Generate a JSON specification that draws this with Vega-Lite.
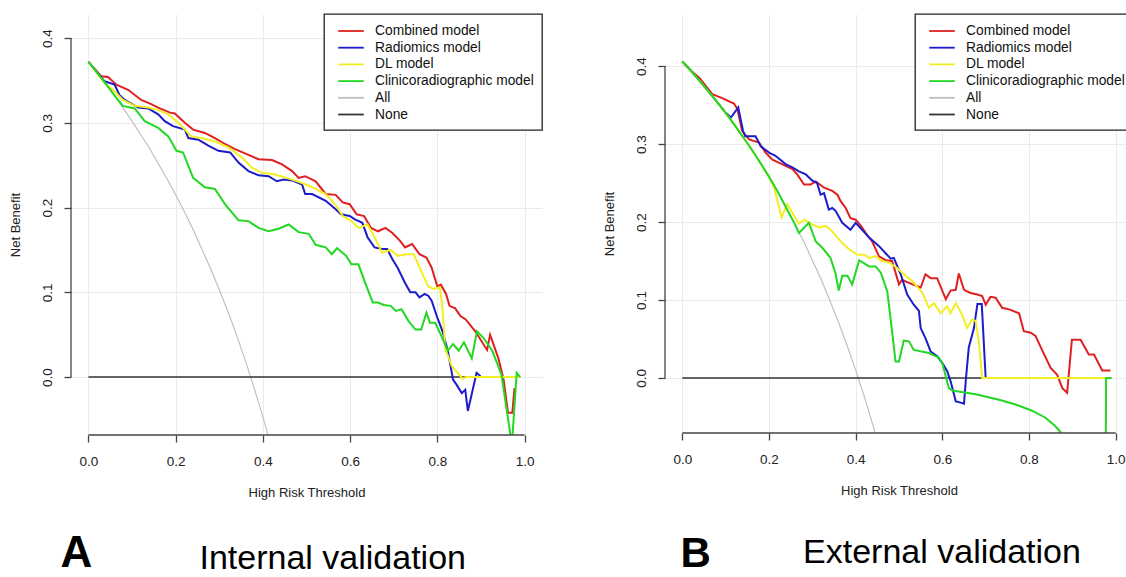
{
  "$schema": "https://vega.github.io/schema/vega-lite/v6.json",
  "background": "white",
  "padding": {"left": 8, "top": 13, "right": 0, "bottom": 0},
  "spacing": 60,
  "config": {
    "view": {"stroke": null},
    "font": "Liberation Sans",
    "axis": {
      "domain": false,
      "tickSize": 7,
      "tickColor": "#444",
      "tickWidth": 1.3,
      "gridColor": "#EBEBEB",
      "gridWidth": 1,
      "labelFont": "Liberation Sans",
      "labelFontSize": 13.5,
      "labelColor": "#222",
      "titleFont": "Liberation Sans",
      "titleFontSize": 13,
      "titleFontWeight": "normal",
      "titleColor": "#222"
    },
    "legend": {
      "orient": "top-right",
      "offset": 0,
      "title": null,
      "strokeColor": "#222",
      "strokeWidth": 1.3,
      "fillColor": "white",
      "padding": 8,
      "labelFont": "Liberation Sans",
      "labelFontSize": 13.8,
      "labelColor": "#111",
      "labelLimit": 400,
      "symbolType": "M-1.6,0H1.6",
      "symbolSize": 256,
      "symbolStrokeWidth": 1.8,
      "symbolOffset": 10,
      "rowPadding": 0.7,
      "labelOffset": 15
    }
  },
  "resolve": {"scale": {"color": "independent"}, "legend": {"color": "independent"}},
  "datasets": {
    "left": [
      {"series": "All", "t": 0, "nb": 0.372}, {"series": "All", "t": 0.02, "nb": 0.359}, {"series": "All", "t": 0.04, "nb": 0.346}, {"series": "All", "t": 0.06, "nb": 0.332}, {"series": "All", "t": 0.08, "nb": 0.317}, {"series": "All", "t": 0.1, "nb": 0.302}, {"series": "All", "t": 0.12, "nb": 0.286}, {"series": "All", "t": 0.14, "nb": 0.27}, {"series": "All", "t": 0.16, "nb": 0.252}, {"series": "All", "t": 0.18, "nb": 0.234}, {"series": "All", "t": 0.2, "nb": 0.215}, {"series": "All", "t": 0.22, "nb": 0.195}, {"series": "All", "t": 0.24, "nb": 0.174}, {"series": "All", "t": 0.26, "nb": 0.151}, {"series": "All", "t": 0.28, "nb": 0.128}, {"series": "All", "t": 0.3, "nb": 0.103}, {"series": "All", "t": 0.32, "nb": 0.077}, {"series": "All", "t": 0.34, "nb": 0.049}, {"series": "All", "t": 0.36, "nb": 0.019}, {"series": "All", "t": 0.38, "nb": -0.013}, {"series": "All", "t": 0.4, "nb": -0.047}, {"series": "All", "t": 0.42, "nb": -0.083},
      {"series": "None", "t": 0, "nb": 0}, {"series": "None", "t": 0.99, "nb": 0},
      {"series": "Combined model", "t": 0, "nb": 0.372}, {"series": "Combined model", "t": 0.029, "nb": 0.355}, {"series": "Combined model", "t": 0.045, "nb": 0.354}, {"series": "Combined model", "t": 0.064, "nb": 0.345}, {"series": "Combined model", "t": 0.091, "nb": 0.339}, {"series": "Combined model", "t": 0.121, "nb": 0.327}, {"series": "Combined model", "t": 0.144, "nb": 0.322}, {"series": "Combined model", "t": 0.16, "nb": 0.318}, {"series": "Combined model", "t": 0.187, "nb": 0.312}, {"series": "Combined model", "t": 0.198, "nb": 0.311}, {"series": "Combined model", "t": 0.221, "nb": 0.3}, {"series": "Combined model", "t": 0.24, "nb": 0.292}, {"series": "Combined model", "t": 0.267, "nb": 0.288}, {"series": "Combined model", "t": 0.29, "nb": 0.282}, {"series": "Combined model", "t": 0.313, "nb": 0.275}, {"series": "Combined model", "t": 0.336, "nb": 0.269}, {"series": "Combined model", "t": 0.363, "nb": 0.263}, {"series": "Combined model", "t": 0.39, "nb": 0.257}, {"series": "Combined model", "t": 0.421, "nb": 0.256}, {"series": "Combined model", "t": 0.444, "nb": 0.251}, {"series": "Combined model", "t": 0.467, "nb": 0.243}, {"series": "Combined model", "t": 0.482, "nb": 0.235}, {"series": "Combined model", "t": 0.497, "nb": 0.237}, {"series": "Combined model", "t": 0.521, "nb": 0.231}, {"series": "Combined model", "t": 0.544, "nb": 0.216}, {"series": "Combined model", "t": 0.567, "nb": 0.215}, {"series": "Combined model", "t": 0.583, "nb": 0.206}, {"series": "Combined model", "t": 0.599, "nb": 0.204}, {"series": "Combined model", "t": 0.615, "nb": 0.192}, {"series": "Combined model", "t": 0.632, "nb": 0.19}, {"series": "Combined model", "t": 0.648, "nb": 0.176}, {"series": "Combined model", "t": 0.664, "nb": 0.172}, {"series": "Combined model", "t": 0.681, "nb": 0.176}, {"series": "Combined model", "t": 0.697, "nb": 0.17}, {"series": "Combined model", "t": 0.714, "nb": 0.161}, {"series": "Combined model", "t": 0.726, "nb": 0.153}, {"series": "Combined model", "t": 0.742, "nb": 0.157}, {"series": "Combined model", "t": 0.759, "nb": 0.145}, {"series": "Combined model", "t": 0.775, "nb": 0.141}, {"series": "Combined model", "t": 0.787, "nb": 0.129}, {"series": "Combined model", "t": 0.8, "nb": 0.107}, {"series": "Combined model", "t": 0.808, "nb": 0.109}, {"series": "Combined model", "t": 0.82, "nb": 0.098}, {"series": "Combined model", "t": 0.828, "nb": 0.084}, {"series": "Combined model", "t": 0.841, "nb": 0.081}, {"series": "Combined model", "t": 0.853, "nb": 0.072}, {"series": "Combined model", "t": 0.865, "nb": 0.068}, {"series": "Combined model", "t": 0.887, "nb": 0.054}, {"series": "Combined model", "t": 0.914, "nb": 0.032}, {"series": "Combined model", "t": 0.921, "nb": 0.05}, {"series": "Combined model", "t": 0.94, "nb": 0.022}, {"series": "Combined model", "t": 0.952, "nb": -0.003}, {"series": "Combined model", "t": 0.962, "nb": -0.042}, {"series": "Combined model", "t": 0.972, "nb": -0.042}, {"series": "Combined model", "t": 0.977, "nb": -0.013},
      {"series": "Radiomics model", "t": 0, "nb": 0.372}, {"series": "Radiomics model", "t": 0.037, "nb": 0.349}, {"series": "Radiomics model", "t": 0.06, "nb": 0.345}, {"series": "Radiomics model", "t": 0.071, "nb": 0.333}, {"series": "Radiomics model", "t": 0.083, "nb": 0.327}, {"series": "Radiomics model", "t": 0.114, "nb": 0.318}, {"series": "Radiomics model", "t": 0.137, "nb": 0.317}, {"series": "Radiomics model", "t": 0.16, "nb": 0.31}, {"series": "Radiomics model", "t": 0.175, "nb": 0.302}, {"series": "Radiomics model", "t": 0.194, "nb": 0.296}, {"series": "Radiomics model", "t": 0.221, "nb": 0.292}, {"series": "Radiomics model", "t": 0.229, "nb": 0.282}, {"series": "Radiomics model", "t": 0.252, "nb": 0.28}, {"series": "Radiomics model", "t": 0.275, "nb": 0.273}, {"series": "Radiomics model", "t": 0.298, "nb": 0.267}, {"series": "Radiomics model", "t": 0.325, "nb": 0.265}, {"series": "Radiomics model", "t": 0.344, "nb": 0.253}, {"series": "Radiomics model", "t": 0.367, "nb": 0.243}, {"series": "Radiomics model", "t": 0.39, "nb": 0.238}, {"series": "Radiomics model", "t": 0.413, "nb": 0.237}, {"series": "Radiomics model", "t": 0.432, "nb": 0.231}, {"series": "Radiomics model", "t": 0.448, "nb": 0.233}, {"series": "Radiomics model", "t": 0.467, "nb": 0.232}, {"series": "Radiomics model", "t": 0.49, "nb": 0.227}, {"series": "Radiomics model", "t": 0.497, "nb": 0.216}, {"series": "Radiomics model", "t": 0.513, "nb": 0.216}, {"series": "Radiomics model", "t": 0.544, "nb": 0.208}, {"series": "Radiomics model", "t": 0.567, "nb": 0.198}, {"series": "Radiomics model", "t": 0.579, "nb": 0.192}, {"series": "Radiomics model", "t": 0.599, "nb": 0.19}, {"series": "Radiomics model", "t": 0.611, "nb": 0.186}, {"series": "Radiomics model", "t": 0.628, "nb": 0.182}, {"series": "Radiomics model", "t": 0.64, "nb": 0.165}, {"series": "Radiomics model", "t": 0.656, "nb": 0.153}, {"series": "Radiomics model", "t": 0.673, "nb": 0.151}, {"series": "Radiomics model", "t": 0.685, "nb": 0.151}, {"series": "Radiomics model", "t": 0.697, "nb": 0.139}, {"series": "Radiomics model", "t": 0.709, "nb": 0.129}, {"series": "Radiomics model", "t": 0.726, "nb": 0.111}, {"series": "Radiomics model", "t": 0.738, "nb": 0.1}, {"series": "Radiomics model", "t": 0.75, "nb": 0.1}, {"series": "Radiomics model", "t": 0.759, "nb": 0.094}, {"series": "Radiomics model", "t": 0.771, "nb": 0.098}, {"series": "Radiomics model", "t": 0.779, "nb": 0.096}, {"series": "Radiomics model", "t": 0.787, "nb": 0.09}, {"series": "Radiomics model", "t": 0.8, "nb": 0.07}, {"series": "Radiomics model", "t": 0.812, "nb": 0.054}, {"series": "Radiomics model", "t": 0.824, "nb": 0.031}, {"series": "Radiomics model", "t": 0.836, "nb": -0.003}, {"series": "Radiomics model", "t": 0.844, "nb": -0.009}, {"series": "Radiomics model", "t": 0.856, "nb": -0.019}, {"series": "Radiomics model", "t": 0.864, "nb": -0.015}, {"series": "Radiomics model", "t": 0.87, "nb": -0.04}, {"series": "Radiomics model", "t": 0.89, "nb": 0.005}, {"series": "Radiomics model", "t": 0.899, "nb": 0.001},
      {"series": "DL model", "t": 0, "nb": 0.372}, {"series": "DL model", "t": 0.037, "nb": 0.347}, {"series": "DL model", "t": 0.06, "nb": 0.337}, {"series": "DL model", "t": 0.079, "nb": 0.327}, {"series": "DL model", "t": 0.106, "nb": 0.32}, {"series": "DL model", "t": 0.137, "nb": 0.318}, {"series": "DL model", "t": 0.16, "nb": 0.315}, {"series": "DL model", "t": 0.183, "nb": 0.31}, {"series": "DL model", "t": 0.206, "nb": 0.3}, {"series": "DL model", "t": 0.236, "nb": 0.284}, {"series": "DL model", "t": 0.259, "nb": 0.282}, {"series": "DL model", "t": 0.29, "nb": 0.278}, {"series": "DL model", "t": 0.321, "nb": 0.271}, {"series": "DL model", "t": 0.352, "nb": 0.259}, {"series": "DL model", "t": 0.375, "nb": 0.247}, {"series": "DL model", "t": 0.398, "nb": 0.241}, {"series": "DL model", "t": 0.428, "nb": 0.239}, {"series": "DL model", "t": 0.467, "nb": 0.233}, {"series": "DL model", "t": 0.49, "nb": 0.229}, {"series": "DL model", "t": 0.513, "nb": 0.224}, {"series": "DL model", "t": 0.544, "nb": 0.216}, {"series": "DL model", "t": 0.567, "nb": 0.203}, {"series": "DL model", "t": 0.583, "nb": 0.19}, {"series": "DL model", "t": 0.603, "nb": 0.184}, {"series": "DL model", "t": 0.619, "nb": 0.176}, {"series": "DL model", "t": 0.64, "nb": 0.18}, {"series": "DL model", "t": 0.652, "nb": 0.169}, {"series": "DL model", "t": 0.673, "nb": 0.147}, {"series": "DL model", "t": 0.693, "nb": 0.15}, {"series": "DL model", "t": 0.709, "nb": 0.143}, {"series": "DL model", "t": 0.73, "nb": 0.145}, {"series": "DL model", "t": 0.746, "nb": 0.145}, {"series": "DL model", "t": 0.763, "nb": 0.125}, {"series": "DL model", "t": 0.779, "nb": 0.107}, {"series": "DL model", "t": 0.791, "nb": 0.104}, {"series": "DL model", "t": 0.806, "nb": 0.106}, {"series": "DL model", "t": 0.812, "nb": 0.08}, {"series": "DL model", "t": 0.818, "nb": 0.034}, {"series": "DL model", "t": 0.833, "nb": 0.013}, {"series": "DL model", "t": 0.858, "nb": -0.002}, {"series": "DL model", "t": 0.866, "nb": 0}, {"series": "DL model", "t": 0.99, "nb": 0},
      {"series": "Clinicoradiographic model", "t": 0, "nb": 0.372}, {"series": "Clinicoradiographic model", "t": 0.02, "nb": 0.359}, {"series": "Clinicoradiographic model", "t": 0.04, "nb": 0.346}, {"series": "Clinicoradiographic model", "t": 0.06, "nb": 0.332}, {"series": "Clinicoradiographic model", "t": 0.079, "nb": 0.32}, {"series": "Clinicoradiographic model", "t": 0.106, "nb": 0.317}, {"series": "Clinicoradiographic model", "t": 0.129, "nb": 0.302}, {"series": "Clinicoradiographic model", "t": 0.16, "nb": 0.294}, {"series": "Clinicoradiographic model", "t": 0.183, "nb": 0.284}, {"series": "Clinicoradiographic model", "t": 0.202, "nb": 0.267}, {"series": "Clinicoradiographic model", "t": 0.217, "nb": 0.265}, {"series": "Clinicoradiographic model", "t": 0.24, "nb": 0.235}, {"series": "Clinicoradiographic model", "t": 0.267, "nb": 0.224}, {"series": "Clinicoradiographic model", "t": 0.29, "nb": 0.222}, {"series": "Clinicoradiographic model", "t": 0.313, "nb": 0.204}, {"series": "Clinicoradiographic model", "t": 0.344, "nb": 0.185}, {"series": "Clinicoradiographic model", "t": 0.367, "nb": 0.184}, {"series": "Clinicoradiographic model", "t": 0.39, "nb": 0.176}, {"series": "Clinicoradiographic model", "t": 0.413, "nb": 0.172}, {"series": "Clinicoradiographic model", "t": 0.436, "nb": 0.175}, {"series": "Clinicoradiographic model", "t": 0.459, "nb": 0.18}, {"series": "Clinicoradiographic model", "t": 0.482, "nb": 0.171}, {"series": "Clinicoradiographic model", "t": 0.505, "nb": 0.169}, {"series": "Clinicoradiographic model", "t": 0.521, "nb": 0.156}, {"series": "Clinicoradiographic model", "t": 0.544, "nb": 0.153}, {"series": "Clinicoradiographic model", "t": 0.558, "nb": 0.145}, {"series": "Clinicoradiographic model", "t": 0.57, "nb": 0.152}, {"series": "Clinicoradiographic model", "t": 0.591, "nb": 0.143}, {"series": "Clinicoradiographic model", "t": 0.603, "nb": 0.133}, {"series": "Clinicoradiographic model", "t": 0.619, "nb": 0.133}, {"series": "Clinicoradiographic model", "t": 0.636, "nb": 0.109}, {"series": "Clinicoradiographic model", "t": 0.652, "nb": 0.088}, {"series": "Clinicoradiographic model", "t": 0.664, "nb": 0.088}, {"series": "Clinicoradiographic model", "t": 0.677, "nb": 0.085}, {"series": "Clinicoradiographic model", "t": 0.693, "nb": 0.084}, {"series": "Clinicoradiographic model", "t": 0.705, "nb": 0.078}, {"series": "Clinicoradiographic model", "t": 0.718, "nb": 0.08}, {"series": "Clinicoradiographic model", "t": 0.734, "nb": 0.066}, {"series": "Clinicoradiographic model", "t": 0.75, "nb": 0.056}, {"series": "Clinicoradiographic model", "t": 0.763, "nb": 0.056}, {"series": "Clinicoradiographic model", "t": 0.775, "nb": 0.076}, {"series": "Clinicoradiographic model", "t": 0.783, "nb": 0.064}, {"series": "Clinicoradiographic model", "t": 0.795, "nb": 0.064}, {"series": "Clinicoradiographic model", "t": 0.808, "nb": 0.05}, {"series": "Clinicoradiographic model", "t": 0.824, "nb": 0.031}, {"series": "Clinicoradiographic model", "t": 0.836, "nb": 0.039}, {"series": "Clinicoradiographic model", "t": 0.849, "nb": 0.031}, {"series": "Clinicoradiographic model", "t": 0.861, "nb": 0.041}, {"series": "Clinicoradiographic model", "t": 0.879, "nb": 0.022}, {"series": "Clinicoradiographic model", "t": 0.891, "nb": 0.054}, {"series": "Clinicoradiographic model", "t": 0.906, "nb": 0.046}, {"series": "Clinicoradiographic model", "t": 0.926, "nb": 0.031}, {"series": "Clinicoradiographic model", "t": 0.947, "nb": 0.003}, {"series": "Clinicoradiographic model", "t": 0.971, "nb": -0.08}, {"series": "Clinicoradiographic model", "t": 0.982, "nb": 0.005}, {"series": "Clinicoradiographic model", "t": 0.99, "nb": 0}
    ],
    "right": [
      {"series": "All", "t": 0, "nb": 0.406}, {"series": "All", "t": 0.02, "nb": 0.394}, {"series": "All", "t": 0.04, "nb": 0.381}, {"series": "All", "t": 0.06, "nb": 0.368}, {"series": "All", "t": 0.08, "nb": 0.354}, {"series": "All", "t": 0.1, "nb": 0.34}, {"series": "All", "t": 0.12, "nb": 0.325}, {"series": "All", "t": 0.14, "nb": 0.309}, {"series": "All", "t": 0.16, "nb": 0.293}, {"series": "All", "t": 0.18, "nb": 0.276}, {"series": "All", "t": 0.2, "nb": 0.258}, {"series": "All", "t": 0.22, "nb": 0.239}, {"series": "All", "t": 0.24, "nb": 0.218}, {"series": "All", "t": 0.26, "nb": 0.197}, {"series": "All", "t": 0.28, "nb": 0.175}, {"series": "All", "t": 0.3, "nb": 0.151}, {"series": "All", "t": 0.32, "nb": 0.127}, {"series": "All", "t": 0.34, "nb": 0.1}, {"series": "All", "t": 0.36, "nb": 0.072}, {"series": "All", "t": 0.38, "nb": 0.042}, {"series": "All", "t": 0.4, "nb": 0.01}, {"series": "All", "t": 0.42, "nb": -0.024}, {"series": "All", "t": 0.44, "nb": -0.061}, {"series": "All", "t": 0.46, "nb": -0.1},
      {"series": "None", "t": 0, "nb": 0}, {"series": "None", "t": 0.99, "nb": 0},
      {"series": "Combined model", "t": 0, "nb": 0.406}, {"series": "Combined model", "t": 0.02, "nb": 0.394}, {"series": "Combined model", "t": 0.039, "nb": 0.385}, {"series": "Combined model", "t": 0.069, "nb": 0.364}, {"series": "Combined model", "t": 0.092, "nb": 0.359}, {"series": "Combined model", "t": 0.119, "nb": 0.352}, {"series": "Combined model", "t": 0.127, "nb": 0.345}, {"series": "Combined model", "t": 0.138, "nb": 0.317}, {"series": "Combined model", "t": 0.154, "nb": 0.306}, {"series": "Combined model", "t": 0.177, "nb": 0.302}, {"series": "Combined model", "t": 0.192, "nb": 0.289}, {"series": "Combined model", "t": 0.208, "nb": 0.28}, {"series": "Combined model", "t": 0.231, "nb": 0.274}, {"series": "Combined model", "t": 0.254, "nb": 0.268}, {"series": "Combined model", "t": 0.265, "nb": 0.261}, {"series": "Combined model", "t": 0.281, "nb": 0.248}, {"series": "Combined model", "t": 0.296, "nb": 0.248}, {"series": "Combined model", "t": 0.308, "nb": 0.252}, {"series": "Combined model", "t": 0.327, "nb": 0.244}, {"series": "Combined model", "t": 0.346, "nb": 0.24}, {"series": "Combined model", "t": 0.358, "nb": 0.235}, {"series": "Combined model", "t": 0.365, "nb": 0.227}, {"series": "Combined model", "t": 0.377, "nb": 0.218}, {"series": "Combined model", "t": 0.388, "nb": 0.205}, {"series": "Combined model", "t": 0.4, "nb": 0.203}, {"series": "Combined model", "t": 0.412, "nb": 0.195}, {"series": "Combined model", "t": 0.423, "nb": 0.186}, {"series": "Combined model", "t": 0.438, "nb": 0.175}, {"series": "Combined model", "t": 0.454, "nb": 0.156}, {"series": "Combined model", "t": 0.469, "nb": 0.151}, {"series": "Combined model", "t": 0.484, "nb": 0.15}, {"series": "Combined model", "t": 0.5, "nb": 0.12}, {"series": "Combined model", "t": 0.507, "nb": 0.126}, {"series": "Combined model", "t": 0.531, "nb": 0.12}, {"series": "Combined model", "t": 0.55, "nb": 0.116}, {"series": "Combined model", "t": 0.561, "nb": 0.133}, {"series": "Combined model", "t": 0.573, "nb": 0.128}, {"series": "Combined model", "t": 0.588, "nb": 0.128}, {"series": "Combined model", "t": 0.608, "nb": 0.101}, {"series": "Combined model", "t": 0.619, "nb": 0.112}, {"series": "Combined model", "t": 0.631, "nb": 0.113}, {"series": "Combined model", "t": 0.638, "nb": 0.134}, {"series": "Combined model", "t": 0.65, "nb": 0.113}, {"series": "Combined model", "t": 0.665, "nb": 0.109}, {"series": "Combined model", "t": 0.681, "nb": 0.107}, {"series": "Combined model", "t": 0.692, "nb": 0.105}, {"series": "Combined model", "t": 0.7, "nb": 0.094}, {"series": "Combined model", "t": 0.711, "nb": 0.104}, {"series": "Combined model", "t": 0.723, "nb": 0.103}, {"series": "Combined model", "t": 0.738, "nb": 0.09}, {"series": "Combined model", "t": 0.754, "nb": 0.088}, {"series": "Combined model", "t": 0.777, "nb": 0.083}, {"series": "Combined model", "t": 0.788, "nb": 0.06}, {"series": "Combined model", "t": 0.804, "nb": 0.058}, {"series": "Combined model", "t": 0.815, "nb": 0.054}, {"series": "Combined model", "t": 0.83, "nb": 0.036}, {"series": "Combined model", "t": 0.85, "nb": 0.013}, {"series": "Combined model", "t": 0.865, "nb": 0.004}, {"series": "Combined model", "t": 0.877, "nb": -0.013}, {"series": "Combined model", "t": 0.888, "nb": -0.019}, {"series": "Combined model", "t": 0.899, "nb": 0.049}, {"series": "Combined model", "t": 0.919, "nb": 0.049}, {"series": "Combined model", "t": 0.938, "nb": 0.03}, {"series": "Combined model", "t": 0.95, "nb": 0.03}, {"series": "Combined model", "t": 0.969, "nb": 0.0095}, {"series": "Combined model", "t": 0.988, "nb": 0.0095},
      {"series": "Radiomics model", "t": 0, "nb": 0.406}, {"series": "Radiomics model", "t": 0.04, "nb": 0.381}, {"series": "Radiomics model", "t": 0.08, "nb": 0.354}, {"series": "Radiomics model", "t": 0.1, "nb": 0.34}, {"series": "Radiomics model", "t": 0.112, "nb": 0.334}, {"series": "Radiomics model", "t": 0.129, "nb": 0.347}, {"series": "Radiomics model", "t": 0.14, "nb": 0.317}, {"series": "Radiomics model", "t": 0.145, "nb": 0.31}, {"series": "Radiomics model", "t": 0.169, "nb": 0.31}, {"series": "Radiomics model", "t": 0.181, "nb": 0.297}, {"series": "Radiomics model", "t": 0.2, "nb": 0.289}, {"series": "Radiomics model", "t": 0.215, "nb": 0.285}, {"series": "Radiomics model", "t": 0.239, "nb": 0.274}, {"series": "Radiomics model", "t": 0.254, "nb": 0.27}, {"series": "Radiomics model", "t": 0.269, "nb": 0.265}, {"series": "Radiomics model", "t": 0.285, "nb": 0.261}, {"series": "Radiomics model", "t": 0.3, "nb": 0.253}, {"series": "Radiomics model", "t": 0.311, "nb": 0.25}, {"series": "Radiomics model", "t": 0.319, "nb": 0.235}, {"series": "Radiomics model", "t": 0.327, "nb": 0.237}, {"series": "Radiomics model", "t": 0.338, "nb": 0.216}, {"series": "Radiomics model", "t": 0.346, "nb": 0.218}, {"series": "Radiomics model", "t": 0.354, "nb": 0.214}, {"series": "Radiomics model", "t": 0.369, "nb": 0.199}, {"series": "Radiomics model", "t": 0.388, "nb": 0.19}, {"series": "Radiomics model", "t": 0.4, "nb": 0.199}, {"series": "Radiomics model", "t": 0.415, "nb": 0.19}, {"series": "Radiomics model", "t": 0.431, "nb": 0.18}, {"series": "Radiomics model", "t": 0.454, "nb": 0.169}, {"series": "Radiomics model", "t": 0.469, "nb": 0.16}, {"series": "Radiomics model", "t": 0.481, "nb": 0.153}, {"series": "Radiomics model", "t": 0.488, "nb": 0.154}, {"series": "Radiomics model", "t": 0.504, "nb": 0.133}, {"series": "Radiomics model", "t": 0.519, "nb": 0.107}, {"series": "Radiomics model", "t": 0.534, "nb": 0.094}, {"series": "Radiomics model", "t": 0.546, "nb": 0.086}, {"series": "Radiomics model", "t": 0.55, "nb": 0.064}, {"series": "Radiomics model", "t": 0.561, "nb": 0.051}, {"series": "Radiomics model", "t": 0.573, "nb": 0.034}, {"series": "Radiomics model", "t": 0.588, "nb": 0.028}, {"series": "Radiomics model", "t": 0.6, "nb": 0.019}, {"series": "Radiomics model", "t": 0.611, "nb": 0.009}, {"series": "Radiomics model", "t": 0.619, "nb": -0.004}, {"series": "Radiomics model", "t": 0.631, "nb": -0.03}, {"series": "Radiomics model", "t": 0.638, "nb": -0.031}, {"series": "Radiomics model", "t": 0.65, "nb": -0.033}, {"series": "Radiomics model", "t": 0.654, "nb": -0.004}, {"series": "Radiomics model", "t": 0.661, "nb": 0.039}, {"series": "Radiomics model", "t": 0.673, "nb": 0.064}, {"series": "Radiomics model", "t": 0.681, "nb": 0.095}, {"series": "Radiomics model", "t": 0.691, "nb": 0.095}, {"series": "Radiomics model", "t": 0.7, "nb": 0},
      {"series": "DL model", "t": 0, "nb": 0.406}, {"series": "DL model", "t": 0.04, "nb": 0.381}, {"series": "DL model", "t": 0.08, "nb": 0.354}, {"series": "DL model", "t": 0.12, "nb": 0.325}, {"series": "DL model", "t": 0.16, "nb": 0.293}, {"series": "DL model", "t": 0.2, "nb": 0.258}, {"series": "DL model", "t": 0.212, "nb": 0.244}, {"series": "DL model", "t": 0.229, "nb": 0.206}, {"series": "DL model", "t": 0.242, "nb": 0.223}, {"series": "DL model", "t": 0.258, "nb": 0.208}, {"series": "DL model", "t": 0.269, "nb": 0.198}, {"series": "DL model", "t": 0.282, "nb": 0.203}, {"series": "DL model", "t": 0.3, "nb": 0.197}, {"series": "DL model", "t": 0.315, "nb": 0.193}, {"series": "DL model", "t": 0.331, "nb": 0.195}, {"series": "DL model", "t": 0.346, "nb": 0.188}, {"series": "DL model", "t": 0.369, "nb": 0.173}, {"series": "DL model", "t": 0.385, "nb": 0.165}, {"series": "DL model", "t": 0.404, "nb": 0.158}, {"series": "DL model", "t": 0.419, "nb": 0.158}, {"series": "DL model", "t": 0.431, "nb": 0.154}, {"series": "DL model", "t": 0.446, "nb": 0.156}, {"series": "DL model", "t": 0.461, "nb": 0.15}, {"series": "DL model", "t": 0.477, "nb": 0.148}, {"series": "DL model", "t": 0.496, "nb": 0.141}, {"series": "DL model", "t": 0.507, "nb": 0.135}, {"series": "DL model", "t": 0.531, "nb": 0.124}, {"series": "DL model", "t": 0.554, "nb": 0.109}, {"series": "DL model", "t": 0.569, "nb": 0.09}, {"series": "DL model", "t": 0.581, "nb": 0.096}, {"series": "DL model", "t": 0.596, "nb": 0.083}, {"series": "DL model", "t": 0.611, "nb": 0.092}, {"series": "DL model", "t": 0.619, "nb": 0.083}, {"series": "DL model", "t": 0.631, "nb": 0.096}, {"series": "DL model", "t": 0.646, "nb": 0.081}, {"series": "DL model", "t": 0.657, "nb": 0.064}, {"series": "DL model", "t": 0.669, "nb": 0.075}, {"series": "DL model", "t": 0.677, "nb": 0.073}, {"series": "DL model", "t": 0.684, "nb": 0.047}, {"series": "DL model", "t": 0.692, "nb": 0}, {"series": "DL model", "t": 0.99, "nb": 0},
      {"series": "Clinicoradiographic model", "t": 0, "nb": 0.406}, {"series": "Clinicoradiographic model", "t": 0.02, "nb": 0.394}, {"series": "Clinicoradiographic model", "t": 0.04, "nb": 0.381}, {"series": "Clinicoradiographic model", "t": 0.06, "nb": 0.368}, {"series": "Clinicoradiographic model", "t": 0.08, "nb": 0.354}, {"series": "Clinicoradiographic model", "t": 0.1, "nb": 0.34}, {"series": "Clinicoradiographic model", "t": 0.12, "nb": 0.325}, {"series": "Clinicoradiographic model", "t": 0.14, "nb": 0.309}, {"series": "Clinicoradiographic model", "t": 0.16, "nb": 0.293}, {"series": "Clinicoradiographic model", "t": 0.18, "nb": 0.276}, {"series": "Clinicoradiographic model", "t": 0.2, "nb": 0.258}, {"series": "Clinicoradiographic model", "t": 0.22, "nb": 0.239}, {"series": "Clinicoradiographic model", "t": 0.24, "nb": 0.218}, {"series": "Clinicoradiographic model", "t": 0.26, "nb": 0.197}, {"series": "Clinicoradiographic model", "t": 0.269, "nb": 0.186}, {"series": "Clinicoradiographic model", "t": 0.292, "nb": 0.199}, {"series": "Clinicoradiographic model", "t": 0.308, "nb": 0.175}, {"series": "Clinicoradiographic model", "t": 0.323, "nb": 0.167}, {"series": "Clinicoradiographic model", "t": 0.342, "nb": 0.154}, {"series": "Clinicoradiographic model", "t": 0.354, "nb": 0.133}, {"series": "Clinicoradiographic model", "t": 0.361, "nb": 0.112}, {"series": "Clinicoradiographic model", "t": 0.369, "nb": 0.131}, {"series": "Clinicoradiographic model", "t": 0.381, "nb": 0.131}, {"series": "Clinicoradiographic model", "t": 0.392, "nb": 0.12}, {"series": "Clinicoradiographic model", "t": 0.408, "nb": 0.151}, {"series": "Clinicoradiographic model", "t": 0.431, "nb": 0.143}, {"series": "Clinicoradiographic model", "t": 0.446, "nb": 0.143}, {"series": "Clinicoradiographic model", "t": 0.458, "nb": 0.135}, {"series": "Clinicoradiographic model", "t": 0.473, "nb": 0.111}, {"series": "Clinicoradiographic model", "t": 0.484, "nb": 0.06}, {"series": "Clinicoradiographic model", "t": 0.492, "nb": 0.021}, {"series": "Clinicoradiographic model", "t": 0.5, "nb": 0.021}, {"series": "Clinicoradiographic model", "t": 0.511, "nb": 0.048}, {"series": "Clinicoradiographic model", "t": 0.523, "nb": 0.047}, {"series": "Clinicoradiographic model", "t": 0.534, "nb": 0.036}, {"series": "Clinicoradiographic model", "t": 0.569, "nb": 0.032}, {"series": "Clinicoradiographic model", "t": 0.592, "nb": 0.026}, {"series": "Clinicoradiographic model", "t": 0.6, "nb": 0.019}, {"series": "Clinicoradiographic model", "t": 0.615, "nb": -0.013}, {"series": "Clinicoradiographic model", "t": 0.623, "nb": -0.016}, {"series": "Clinicoradiographic model", "t": 0.677, "nb": -0.021}, {"series": "Clinicoradiographic model", "t": 0.731, "nb": -0.028}, {"series": "Clinicoradiographic model", "t": 0.769, "nb": -0.034}, {"series": "Clinicoradiographic model", "t": 0.807, "nb": -0.042}, {"series": "Clinicoradiographic model", "t": 0.838, "nb": -0.051}, {"series": "Clinicoradiographic model", "t": 0.861, "nb": -0.062}, {"series": "Clinicoradiographic model", "t": 0.875, "nb": -0.071}, {"series": "Clinicoradiographic model", "t": 0.9, "nb": -0.09}, {"series": "Clinicoradiographic model", "t": 0.95, "nb": -0.14}, {"series": "Clinicoradiographic model", "t": 0.976, "nb": -0.2}, {"series": "Clinicoradiographic model", "t": 0.978, "nb": 0}, {"series": "Clinicoradiographic model", "t": 0.99, "nb": 0}
    ]
  },
  "hconcat": [
    {
      "width": 471,
      "height": 421,
      "layer": [
        {"data": {"name": "left"}, "transform": [{"filter": "datum.series === 'All'"}], "mark": {"type": "line", "clip": true, "strokeWidth": 1.1},
         "encoding": {
           "x": {"field": "t", "type": "quantitative", "scale": {"domain": [-0.04, 1.04], "nice": false, "zero": false},
                 "axis": {"values": [0, 0.2, 0.4, 0.6, 0.8, 1], "format": ".1f", "title": "High Risk Threshold", "labelPadding": 12, "titlePadding": 19}},
           "y": {"field": "nb", "type": "quantitative", "scale": {"domain": [-0.0684, 0.4284], "nice": false, "zero": false},
                 "axis": {"values": [0, 0.1, 0.2, 0.3, 0.4], "format": ".1f", "title": "Net Benefit", "labelAngle": 270, "labelAlign": "center", "labelBaseline": "bottom", "labelPadding": 10, "titlePadding": 18}},
           "color": {"field": "series", "type": "nominal", "scale": {"domain": ["Combined model", "Radiomics model", "DL model", "Clinicoradiographic model", "All", "None"], "range": ["#E02020", "#1C1CCC", "#F2EE22", "#22D822", "#BDBDBD", "#333333"]}}}},
        {"data": {"name": "left"}, "transform": [{"filter": "datum.series === 'None'"}], "mark": {"type": "line", "clip": true, "strokeWidth": 1.4},
         "encoding": {"x": {"field": "t", "type": "quantitative"}, "y": {"field": "nb", "type": "quantitative"}, "color": {"field": "series", "type": "nominal"}}},
        {"data": {"name": "left"}, "transform": [{"filter": "datum.series === 'Combined model'"}], "mark": {"type": "line", "clip": true, "strokeWidth": 2},
         "encoding": {"x": {"field": "t", "type": "quantitative"}, "y": {"field": "nb", "type": "quantitative"}, "color": {"field": "series", "type": "nominal"}}},
        {"data": {"name": "left"}, "transform": [{"filter": "datum.series === 'Radiomics model'"}], "mark": {"type": "line", "clip": true, "strokeWidth": 2},
         "encoding": {"x": {"field": "t", "type": "quantitative"}, "y": {"field": "nb", "type": "quantitative"}, "color": {"field": "series", "type": "nominal"}}},
        {"data": {"name": "left"}, "transform": [{"filter": "datum.series === 'DL model'"}], "mark": {"type": "line", "clip": true, "strokeWidth": 2},
         "encoding": {"x": {"field": "t", "type": "quantitative"}, "y": {"field": "nb", "type": "quantitative"}, "color": {"field": "series", "type": "nominal"}}},
        {"data": {"name": "left"}, "transform": [{"filter": "datum.series === 'Clinicoradiographic model'"}], "mark": {"type": "line", "clip": true, "strokeWidth": 2},
         "encoding": {"x": {"field": "t", "type": "quantitative"}, "y": {"field": "nb", "type": "quantitative"}, "color": {"field": "series", "type": "nominal"}}},
        {"data": {"values": [{"k": "yaxis"}]}, "mark": {"type": "rule", "color": "#444", "strokeWidth": 1.3},
         "encoding": {"x": {"datum": -0.04, "type": "quantitative"}, "y": {"datum": 0, "type": "quantitative"}, "y2": {"datum": 0.4}}},
        {"data": {"values": [{"k": "xaxis"}]}, "mark": {"type": "rule", "color": "#444", "strokeWidth": 1.3},
         "encoding": {"y": {"datum": -0.0684, "type": "quantitative"}, "x": {"datum": 0, "type": "quantitative"}, "x2": {"datum": 1}}},
        {"data": {"values": [{"label": "A"}]}, "mark": {"type": "text", "font": "Liberation Sans", "fontWeight": "bold", "fontSize": 44, "align": "center", "baseline": "alphabetic", "color": "#000"},
         "encoding": {"x": {"datum": -0.0275, "type": "quantitative"}, "y": {"datum": -0.2242, "type": "quantitative"}, "text": {"field": "label", "type": "nominal"}}},
        {"data": {"values": [{"label": "Internal validation"}]}, "mark": {"type": "text", "font": "Liberation Sans", "fontSize": 34, "align": "left", "baseline": "alphabetic", "color": "#000"},
         "encoding": {"x": {"datum": 0.2546, "type": "quantitative"}, "y": {"datum": -0.2265, "type": "quantitative"}, "text": {"field": "label", "type": "nominal"}}}
      ]
    },
    {
      "width": 468,
      "height": 419,
      "layer": [
        {"data": {"name": "right"}, "transform": [{"filter": "datum.series === 'All'"}], "mark": {"type": "line", "clip": true, "strokeWidth": 1.1},
         "encoding": {
           "x": {"field": "t", "type": "quantitative", "scale": {"domain": [-0.04, 1.04], "nice": false, "zero": false},
                 "axis": {"values": [0, 0.2, 0.4, 0.6, 0.8, 1], "format": ".1f", "title": "High Risk Threshold", "labelPadding": 12, "titlePadding": 19}},
           "y": {"field": "nb", "type": "quantitative", "scale": {"domain": [-0.0706, 0.4668], "nice": false, "zero": false},
                 "axis": {"values": [0, 0.1, 0.2, 0.3, 0.4], "format": ".1f", "title": "Net Benefit", "labelAngle": 270, "labelAlign": "center", "labelBaseline": "bottom", "labelPadding": 10, "titlePadding": 18}},
           "color": {"field": "series", "type": "nominal", "scale": {"domain": ["Combined model", "Radiomics model", "DL model", "Clinicoradiographic model", "All", "None"], "range": ["#E02020", "#1C1CCC", "#F2EE22", "#22D822", "#BDBDBD", "#333333"]}}}},
        {"data": {"name": "right"}, "transform": [{"filter": "datum.series === 'None'"}], "mark": {"type": "line", "clip": true, "strokeWidth": 1.4},
         "encoding": {"x": {"field": "t", "type": "quantitative"}, "y": {"field": "nb", "type": "quantitative"}, "color": {"field": "series", "type": "nominal"}}},
        {"data": {"name": "right"}, "transform": [{"filter": "datum.series === 'Combined model'"}], "mark": {"type": "line", "clip": true, "strokeWidth": 2},
         "encoding": {"x": {"field": "t", "type": "quantitative"}, "y": {"field": "nb", "type": "quantitative"}, "color": {"field": "series", "type": "nominal"}}},
        {"data": {"name": "right"}, "transform": [{"filter": "datum.series === 'Radiomics model'"}], "mark": {"type": "line", "clip": true, "strokeWidth": 2},
         "encoding": {"x": {"field": "t", "type": "quantitative"}, "y": {"field": "nb", "type": "quantitative"}, "color": {"field": "series", "type": "nominal"}}},
        {"data": {"name": "right"}, "transform": [{"filter": "datum.series === 'DL model'"}], "mark": {"type": "line", "clip": true, "strokeWidth": 2},
         "encoding": {"x": {"field": "t", "type": "quantitative"}, "y": {"field": "nb", "type": "quantitative"}, "color": {"field": "series", "type": "nominal"}}},
        {"data": {"name": "right"}, "transform": [{"filter": "datum.series === 'Clinicoradiographic model'"}], "mark": {"type": "line", "clip": true, "strokeWidth": 2},
         "encoding": {"x": {"field": "t", "type": "quantitative"}, "y": {"field": "nb", "type": "quantitative"}, "color": {"field": "series", "type": "nominal"}}},
        {"data": {"values": [{"k": "yaxis"}]}, "mark": {"type": "rule", "color": "#444", "strokeWidth": 1.3},
         "encoding": {"x": {"datum": -0.04, "type": "quantitative"}, "y": {"datum": 0, "type": "quantitative"}, "y2": {"datum": 0.4}}},
        {"data": {"values": [{"k": "xaxis"}]}, "mark": {"type": "rule", "color": "#444", "strokeWidth": 1.3},
         "encoding": {"y": {"datum": -0.0706, "type": "quantitative"}, "x": {"datum": 0, "type": "quantitative"}, "x2": {"datum": 1}}},
        {"data": {"values": [{"label": "B"}]}, "mark": {"type": "text", "font": "Liberation Sans", "fontWeight": "bold", "fontSize": 42, "align": "center", "baseline": "alphabetic", "color": "#000"},
         "encoding": {"x": {"datum": 0.0305, "type": "quantitative"}, "y": {"datum": -0.2425, "type": "quantitative"}, "text": {"field": "label", "type": "nominal"}}},
        {"data": {"values": [{"label": "External validation"}]}, "mark": {"type": "text", "font": "Liberation Sans", "fontSize": 34, "align": "left", "baseline": "alphabetic", "color": "#000"},
         "encoding": {"x": {"datum": 0.2786, "type": "quantitative"}, "y": {"datum": -0.2373, "type": "quantitative"}, "text": {"field": "label", "type": "nominal"}}}
      ]
    }
  ]
}
